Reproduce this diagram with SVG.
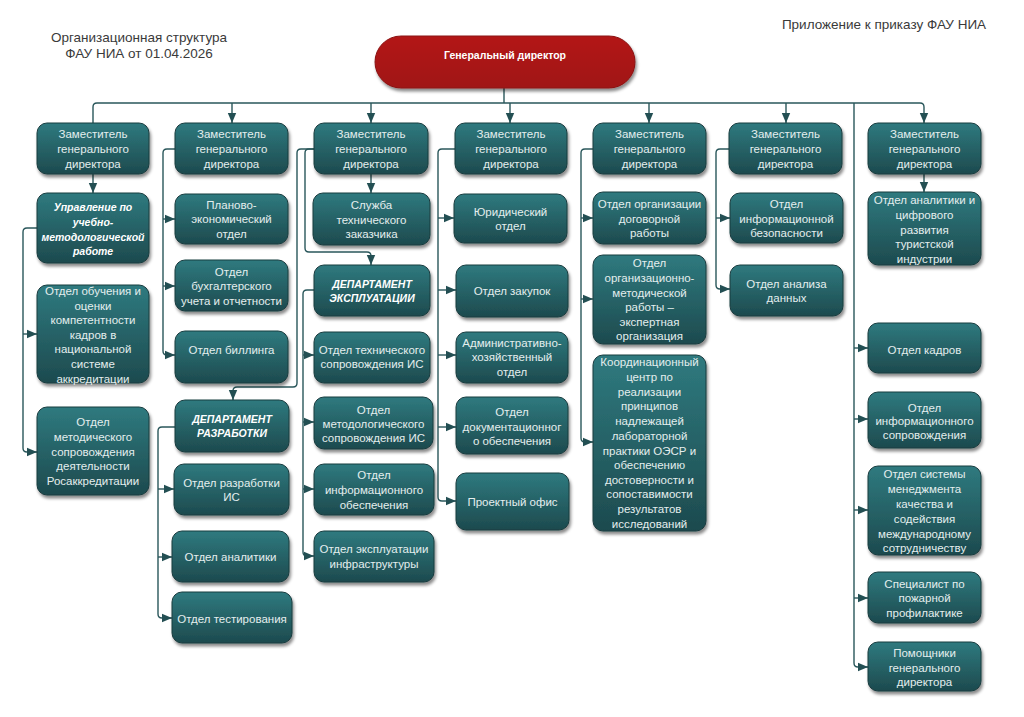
<svg xmlns="http://www.w3.org/2000/svg" width="1024" height="717" viewBox="0 0 1024 717">
<defs>
<linearGradient id="gTeal" x1="0" y1="0" x2="0" y2="1">
<stop offset="0" stop-color="#2f7a7f"/>
<stop offset="1" stop-color="#1d4a4e"/>
</linearGradient>
<linearGradient id="gRed" x1="0" y1="0" x2="0" y2="1">
<stop offset="0" stop-color="#b31818"/>
<stop offset="1" stop-color="#a01414"/>
</linearGradient>
<filter id="sh" x="-10%" y="-10%" width="130%" height="140%">
<feDropShadow dx="1.5" dy="3" stdDeviation="1.8" flood-color="#000" flood-opacity="0.45"/>
</filter>
<marker id="arr" markerUnits="userSpaceOnUse" markerWidth="10" markerHeight="10" viewBox="0 0 10 10" refX="10" refY="5" orient="auto">
<path d="M0,0.8 L10,5 L0,9.2 Z" fill="#234f53"/>
</marker>
</defs>
<style>
.box{fill:url(#gTeal);stroke:#1a3c3f;stroke-width:1;filter:url(#sh)}
.t{font-family:"Liberation Sans",Arial,sans-serif;font-size:11.5px;fill:#e4eeee;text-anchor:middle}
.b{font-family:"Liberation Sans",Arial,sans-serif;font-size:10.5px;font-weight:bold;font-style:italic;fill:#ffffff;text-anchor:middle}
.c{fill:none;stroke:#2a575b;stroke-width:1.4}
.a{marker-end:url(#arr)}
.h{font-family:"Liberation Sans",Arial,sans-serif;font-size:13.5px;fill:#3a3a3a;text-anchor:middle}
</style>
<rect width="1024" height="717" fill="#ffffff"/>
<text class="h" x="139" y="42">Организационная структура</text>
<text class="h" x="139" y="58">ФАУ НИА от 01.04.2026</text>
<text class="h" x="884" y="29">Приложение к приказу ФАУ НИА</text>

<g id="connectors">
<path class="c" d="M504,88 V103"/>
<path class="c a" d="M93,123 V107 Q93,103 97,103 H920 Q924,103 924,107 V123"/>
<path class="c a" d="M232,103 V123"/>
<path class="c a" d="M371,103 V123"/>
<path class="c a" d="M510,103 V123"/>
<path class="c a" d="M649,103 V123"/>
<path class="c a" d="M786,103 V123"/>
<path class="c a" d="M854,103 V663 Q854,667 858,667 H868"/>
<path class="c a" d="M854,348 H868"/>
<path class="c a" d="M854,419 H868"/>
<path class="c a" d="M854,510 H868"/>
<path class="c a" d="M854,598 H868"/>
<path class="c a" d="M93,174 V193"/>
<path class="c a" d="M37,228 H27 Q23,228 23,232 V448 Q23,452 27,452 H37"/>
<path class="c a" d="M23,334 H37"/>
<path class="c a" d="M175,149 H167 Q163,149 163,153 V351 Q163,355 167,355 H175"/>
<path class="c a" d="M163,219 H175"/>
<path class="c a" d="M163,286 H175"/>
<path class="c a" d="M314,149 H301 Q297,149 297,153 V383 Q297,387 293,387 H237 Q233,387 233,391 V400"/>
<path class="c a" d="M314,149 H309 Q305,149 305,153 V248 Q305,252 309,252 H367 Q371,252 371,256 V265"/>
<path class="c a" d="M371,174 V193"/>
<path class="c a" d="M314,290 H307 Q303,290 303,294 V552 Q303,556 307,556 H314"/>
<path class="c a" d="M303,355 H314"/>
<path class="c a" d="M303,422 H314"/>
<path class="c a" d="M303,489 H314"/>
<path class="c a" d="M175,427 H162 Q158,427 158,431 V614 Q158,618 162,618 H172"/>
<path class="c a" d="M158,489 H174"/>
<path class="c a" d="M158,557 H172"/>
<path class="c a" d="M455,149 H442 Q438,149 438,153 V497 Q438,501 442,501 H456"/>
<path class="c a" d="M438,218 H454"/>
<path class="c a" d="M438,290 H456"/>
<path class="c a" d="M438,355 H456"/>
<path class="c a" d="M438,427 H456"/>
<path class="c a" d="M593,149 H585 Q581,149 581,153 V438 Q581,442 585,442 H593"/>
<path class="c a" d="M581,218 H593"/>
<path class="c a" d="M581,299 H593"/>
<path class="c a" d="M729,149 H720 Q716,149 716,153 V285 Q716,289 720,289 H730"/>
<path class="c a" d="M716,218 H730"/>
<path class="c a" d="M924,174 V192"/>
</g>

<g id="gd">
<rect x="375" y="36" width="260" height="52" rx="26" fill="url(#gRed)" stroke="#8a1212" stroke-width="1" filter="url(#sh)"/>
<text x="505" y="59" font-family="Liberation Sans, Arial, sans-serif" font-size="10.5" font-weight="bold" fill="#ffffff" text-anchor="middle">Генеральный директор</text>
</g>

<g id="dep1"><rect class="box" x="37" y="123" width="112" height="51" rx="10"/><text class="t"><tspan x="93" y="138">Заместитель</tspan><tspan x="93" y="153">генерального</tspan><tspan x="93" y="168">директора</tspan></text></g>
<g id="dep2"><rect class="box" x="175" y="123" width="113" height="51" rx="10"/><text class="t"><tspan x="231.5" y="138">Заместитель</tspan><tspan x="231.5" y="153">генерального</tspan><tspan x="231.5" y="168">директора</tspan></text></g>
<g id="dep3"><rect class="box" x="314" y="123" width="114" height="51" rx="10"/><text class="t"><tspan x="371" y="138">Заместитель</tspan><tspan x="371" y="153">генерального</tspan><tspan x="371" y="168">директора</tspan></text></g>
<g id="dep4"><rect class="box" x="455" y="123" width="112" height="51" rx="10"/><text class="t"><tspan x="511" y="138">Заместитель</tspan><tspan x="511" y="153">генерального</tspan><tspan x="511" y="168">директора</tspan></text></g>
<g id="dep5"><rect class="box" x="593" y="123" width="113" height="51" rx="10"/><text class="t"><tspan x="649.5" y="138">Заместитель</tspan><tspan x="649.5" y="153">генерального</tspan><tspan x="649.5" y="168">директора</tspan></text></g>
<g id="dep6"><rect class="box" x="729" y="123" width="113" height="51" rx="10"/><text class="t"><tspan x="785.5" y="138">Заместитель</tspan><tspan x="785.5" y="153">генерального</tspan><tspan x="785.5" y="168">директора</tspan></text></g>
<g id="dep7"><rect class="box" x="868" y="123" width="113" height="51" rx="10"/><text class="t"><tspan x="924.5" y="138">Заместитель</tspan><tspan x="924.5" y="153">генерального</tspan><tspan x="924.5" y="168">директора</tspan></text></g>

<g id="upr"><rect class="box" x="37" y="193" width="112" height="70" rx="10"/><text class="b"><tspan x="93" y="211">Управление по</tspan><tspan x="93" y="226">учебно-</tspan><tspan x="93" y="241">методологической</tspan><tspan x="93" y="255">работе</tspan></text></g>
<g id="obuch"><rect class="box" x="37" y="285" width="112" height="98" rx="10"/><text class="t"><tspan x="93" y="295">Отдел обучения и</tspan><tspan x="93" y="309.5">оценки</tspan><tspan x="93" y="324">компетентности</tspan><tspan x="93" y="339">кадров в</tspan><tspan x="93" y="353">национальной</tspan><tspan x="93" y="368">системе</tspan><tspan x="93" y="383">аккредитации</tspan></text></g>
<g id="metod"><rect class="box" x="37" y="407" width="112" height="88" rx="10"/><text class="t"><tspan x="93" y="426">Отдел</tspan><tspan x="93" y="441">методического</tspan><tspan x="93" y="456">сопровождения</tspan><tspan x="93" y="470">деятельности</tspan><tspan x="93" y="485">Росаккредитации</tspan></text></g>

<g id="plan"><rect class="box" x="175" y="194" width="113" height="50" rx="10"/><text class="t"><tspan x="231.5" y="209">Планово-</tspan><tspan x="231.5" y="223">экономический</tspan><tspan x="231.5" y="238">отдел</tspan></text></g>
<g id="buh"><rect class="box" x="175" y="260" width="113" height="51" rx="10"/><text class="t"><tspan x="231.5" y="276">Отдел</tspan><tspan x="231.5" y="290">бухгалтерского</tspan><tspan x="231.5" y="305">учета и отчетности</tspan></text></g>
<g id="bill"><rect class="box" x="175" y="331" width="113" height="52" rx="10"/><text class="t"><tspan x="231.5" y="354">Отдел биллинга</tspan></text></g>
<g id="depraz"><rect class="box" x="175" y="400" width="114" height="52" rx="10"/><text class="b"><tspan x="232" y="423">ДЕПАРТАМЕНТ</tspan><tspan x="232" y="437">РАЗРАБОТКИ</tspan></text></g>
<g id="razr"><rect class="box" x="174" y="464" width="115" height="51" rx="10"/><text class="t"><tspan x="231.5" y="487">Отдел разработки</tspan><tspan x="231.5" y="501">ИС</tspan></text></g>
<g id="anal"><rect class="box" x="172" y="531" width="117" height="51" rx="10"/><text class="t"><tspan x="230.5" y="561">Отдел аналитики</tspan></text></g>
<g id="test"><rect class="box" x="172" y="592" width="120" height="51" rx="10"/><text class="t"><tspan x="232" y="623">Отдел тестирования</tspan></text></g>

<g id="sluzh"><rect class="box" x="313" y="193" width="117" height="52" rx="10"/><text class="t"><tspan x="371.5" y="209">Служба</tspan><tspan x="371.5" y="224">технического</tspan><tspan x="371.5" y="238">заказчика</tspan></text></g>
<g id="depexp"><rect class="box" x="314" y="265" width="116" height="51" rx="10"/><text class="b"><tspan x="372" y="288">ДЕПАРТАМЕНТ</tspan><tspan x="372" y="302">ЭКСПЛУАТАЦИИ</tspan></text></g>
<g id="teh"><rect class="box" x="314" y="332" width="116" height="51" rx="10"/><text class="t"><tspan x="372" y="354">Отдел технического</tspan><tspan x="372" y="368">сопровождения ИС</tspan></text></g>
<g id="metodol"><rect class="box" x="314" y="397" width="119" height="52" rx="10"/><text class="t"><tspan x="373.5" y="414">Отдел</tspan><tspan x="373.5" y="428">методологического</tspan><tspan x="373.5" y="442">сопровождения ИС</tspan></text></g>
<g id="infoob"><rect class="box" x="314" y="464" width="120" height="51" rx="10"/><text class="t"><tspan x="374" y="479">Отдел</tspan><tspan x="374" y="494">информационного</tspan><tspan x="374" y="509">обеспечения</tspan></text></g>
<g id="infra"><rect class="box" x="314" y="531" width="120" height="51" rx="10"/><text class="t"><tspan x="374" y="553">Отдел эксплуатации</tspan><tspan x="374" y="568">инфраструктуры</tspan></text></g>

<g id="jur"><rect class="box" x="454" y="194" width="113" height="49" rx="10"/><text class="t"><tspan x="510.5" y="216">Юридический</tspan><tspan x="510.5" y="230">отдел</tspan></text></g>
<g id="zak"><rect class="box" x="456" y="265" width="112" height="52" rx="10"/><text class="t"><tspan x="512" y="295">Отдел закупок</tspan></text></g>
<g id="aho"><rect class="box" x="456" y="332" width="112" height="51" rx="10"/><text class="t"><tspan x="512" y="347">Административно-</tspan><tspan x="512" y="361">хозяйственный</tspan><tspan x="512" y="376">отдел</tspan></text></g>
<g id="doc"><rect class="box" x="456" y="397" width="112" height="57" rx="10"/><text class="t"><tspan x="512" y="416">Отдел</tspan><tspan x="512" y="431">документационног</tspan><tspan x="512" y="445">о обеспечения</tspan></text></g>
<g id="proj"><rect class="box" x="456" y="473" width="113" height="57" rx="10"/><text class="t"><tspan x="512.5" y="506">Проектный офис</tspan></text></g>

<g id="dog"><rect class="box" x="593" y="192" width="113" height="52" rx="10"/><text class="t"><tspan x="649.5" y="208">Отдел организации</tspan><tspan x="649.5" y="223">договорной</tspan><tspan x="649.5" y="237">работы</tspan></text></g>
<g id="orgmet"><rect class="box" x="593" y="255" width="113" height="89" rx="10"/><text class="t"><tspan x="649.5" y="267">Отдел</tspan><tspan x="649.5" y="282">организационно-</tspan><tspan x="649.5" y="297">методической</tspan><tspan x="649.5" y="311">работы –</tspan><tspan x="649.5" y="326">экспертная</tspan><tspan x="649.5" y="340">организация</tspan></text></g>
<g id="koord"><rect class="box" x="593" y="355" width="113" height="176" rx="10"/><text class="t"><tspan x="649.5" y="366">Координационный</tspan><tspan x="649.5" y="381">центр по</tspan><tspan x="649.5" y="396">реализации</tspan><tspan x="649.5" y="410">принципов</tspan><tspan x="649.5" y="425">надлежащей</tspan><tspan x="649.5" y="440">лабораторной</tspan><tspan x="649.5" y="455">практики ОЭСР и</tspan><tspan x="649.5" y="469">обеспечению</tspan><tspan x="649.5" y="484">достоверности и</tspan><tspan x="649.5" y="498">сопоставимости</tspan><tspan x="649.5" y="513">результатов</tspan><tspan x="649.5" y="528">исследований</tspan></text></g>

<g id="ib"><rect class="box" x="730" y="193" width="113" height="50" rx="10"/><text class="t"><tspan x="786.5" y="208">Отдел</tspan><tspan x="786.5" y="223">информационной</tspan><tspan x="786.5" y="237">безопасности</tspan></text></g>
<g id="andan"><rect class="box" x="730" y="265" width="113" height="51" rx="10"/><text class="t"><tspan x="786.5" y="288">Отдел анализа</tspan><tspan x="786.5" y="302">данных</tspan></text></g>

<g id="tour"><rect class="box" x="868" y="192" width="113" height="73" rx="10"/><text class="t"><tspan x="924.5" y="204">Отдел аналитики и</tspan><tspan x="924.5" y="219">цифрового</tspan><tspan x="924.5" y="234">развития</tspan><tspan x="924.5" y="248">туристской</tspan><tspan x="924.5" y="263">индустрии</tspan></text></g>
<g id="kadr"><rect class="box" x="868" y="323" width="113" height="50" rx="10"/><text class="t"><tspan x="924.5" y="354">Отдел кадров</tspan></text></g>
<g id="infosop"><rect class="box" x="868" y="392" width="113" height="56" rx="10"/><text class="t"><tspan x="924.5" y="412">Отдел</tspan><tspan x="924.5" y="425">информационного</tspan><tspan x="924.5" y="439">сопровождения</tspan></text></g>
<g id="smk"><rect class="box" x="868" y="466" width="113" height="89" rx="10"/><text class="t"><tspan x="924.5" y="478">Отдел системы</tspan><tspan x="924.5" y="493">менеджмента</tspan><tspan x="924.5" y="508">качества и</tspan><tspan x="924.5" y="523">содействия</tspan><tspan x="924.5" y="538">международному</tspan><tspan x="924.5" y="552">сотрудничеству</tspan></text></g>
<g id="fire"><rect class="box" x="868" y="572" width="113" height="51" rx="10"/><text class="t"><tspan x="924.5" y="588">Специалист по</tspan><tspan x="924.5" y="602">пожарной</tspan><tspan x="924.5" y="617">профилактике</tspan></text></g>
<g id="pom"><rect class="box" x="868" y="642" width="113" height="49" rx="10"/><text class="t"><tspan x="924.5" y="657">Помощники</tspan><tspan x="924.5" y="672">генерального</tspan><tspan x="924.5" y="686">директора</tspan></text></g>
</svg>
